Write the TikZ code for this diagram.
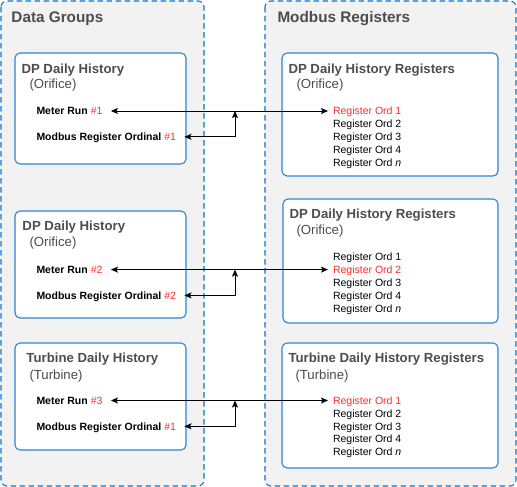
\documentclass[tikz,border=0pt]{standalone}
\usepackage{fontspec}
\setmainfont{Liberation Sans}
\usetikzlibrary{arrows.meta}
\definecolor{dashblue}{HTML}{0A74CC}
\definecolor{boxblue}{HTML}{2F84D4}
\definecolor{txtgray}{HTML}{4D4D4D}
\definecolor{hred}{HTML}{FF2B2B}
\newcommand{\hn}[1]{\textcolor{hred}{\mdseries#1}}
\tikzset{
  >={Stealth[length=7pt,width=6pt,inset=1.5pt]},
  grp/.style={draw=dashblue,dash pattern=on 5.5pt off 3.5pt,fill=black!5,rounded corners=6pt,line width=1.1pt},
  box/.style={draw=boxblue,fill=white,rounded corners=5pt,line width=1.1pt},
  hd/.style={anchor=west,inner sep=0pt,text height=11pt,text depth=0pt,text=txtgray,font=\fontsize{15.3}{18}\selectfont\bfseries},
  ttl/.style={anchor=west,inner sep=0pt,text height=9.4pt,text depth=0pt,text=txtgray,font=\fontsize{13.2}{16}\selectfont\bfseries},
  sub/.style={anchor=west,inner sep=0pt,text height=9.4pt,text depth=0pt,text=txtgray,font=\fontsize{13.2}{16}\selectfont},
  itm/.style={anchor=west,inner xsep=8pt,inner ysep=0pt,text height=7.5pt,text depth=0pt,font=\fontsize{10.5}{12}\selectfont\bfseries},
  reg/.style={anchor=west,inner xsep=4.5pt,inner ysep=0pt,text height=7.5pt,text depth=0pt,font=\fontsize{10.5}{12}\selectfont},
  every picture/.style={line width=1pt},
}
\begin{document}
\begin{tikzpicture}[x=1pt,y=-1pt]
\useasboundingbox (0,0) rectangle (517,487);
\draw[grp] (1,1) rectangle (204,486); \draw[grp] (265,1) rectangle (516,486);
\node[hd] (dg) at (11,17.5){Data Groups}; \node[hd] (mb) at (277,17.5){Modbus Registers};
% data groups
\draw[box] (15,53) rectangle (186,164); \draw[box] (15,211) rectangle (186,318); \draw[box] (15,343) rectangle (186,450);
\node[ttl] (g1) at (21,68.5){DP Daily History}; \node[sub] (s1) at (29,84){(Orifice)};
\node[itm] (mr1) at (28,111){Meter Run \hn{\#1}}; \node[itm] (mo1) at (28,136.8){Modbus Register Ordinal \hn{\#1}};
\node[ttl] (g2) at (22,226){DP Daily History}; \node[sub] (s2) at (29,242){(Orifice)};
\node[itm] (mr2) at (28,269.6){Meter Run \hn{\#2}}; \node[itm] (mo2) at (28,295.4){Modbus Register Ordinal \hn{\#2}};
\node[ttl] (g3) at (26,358){Turbine Daily History}; \node[sub] (s3) at (29,374.3){(Turbine)};
\node[itm] (mr3) at (28,400.5){Meter Run \hn{\#3}}; \node[itm] (mo3) at (28,426.3){Modbus Register Ordinal \hn{\#1}};
% modbus registers
\draw[box] (282,53) rectangle (498,176); \draw[box] (283,199) rectangle (498,323); \draw[box] (282,343) rectangle (498,468);
\node[ttl] (h1) at (288,68.5){DP Daily History Registers}; \node[sub] (t1) at (296,84){(Orifice)};
\node[reg,text=hred] (r11) at (328,111){Register Ord 1}; \node[reg] (r12) at (328,123.9){Register Ord 2};
\node[reg] (r13) at (328,136.8){Register Ord 3}; \node[reg] (r14) at (328,149.7){Register Ord 4};
\node[reg] (r15) at (328,162.6){Register Ord \textit{n}};
\node[ttl] (h2) at (289,213.7){DP Daily History Registers}; \node[sub] (t2) at (296,230){(Orifice)};
\node[reg] (r21) at (328,256.7){Register Ord 1}; \node[reg,text=hred] (r22) at (328,269.6){Register Ord 2};
\node[reg] (r23) at (328,282.5){Register Ord 3}; \node[reg] (r24) at (328,295.4){Register Ord 4};
\node[reg] (r25) at (328,308.3){Register Ord \textit{n}};
\node[ttl] (h3) at (288,358){Turbine Daily History Registers}; \node[sub] (t3) at (295,374.3){(Turbine)};
\node[reg,text=hred] (r31) at (328,400.5){Register Ord 1}; \node[reg] (r32) at (328,413.4){Register Ord 2};
\node[reg] (r33) at (328,426.3){Register Ord 3}; \node[reg] (r34) at (328,439.2){Register Ord 4};
\node[reg] (r35) at (328,452.1){Register Ord \textit{n}};
% links
\coordinate (j1) at (235,111); \coordinate (j2) at (235,269.6); \coordinate (j3) at (235,400.5);
\draw[<->] (mr1.east)--(r11.west); \draw[<->] (mo1.east) -| (j1);
\draw[<->] (mr2.east)--(r22.west); \draw[<->] (mo2.east) -| (j2);
\draw[<->] (mr3.east)--(r31.west); \draw[<->] (mo3.east) -| (j3);
\end{tikzpicture}
\end{document}
